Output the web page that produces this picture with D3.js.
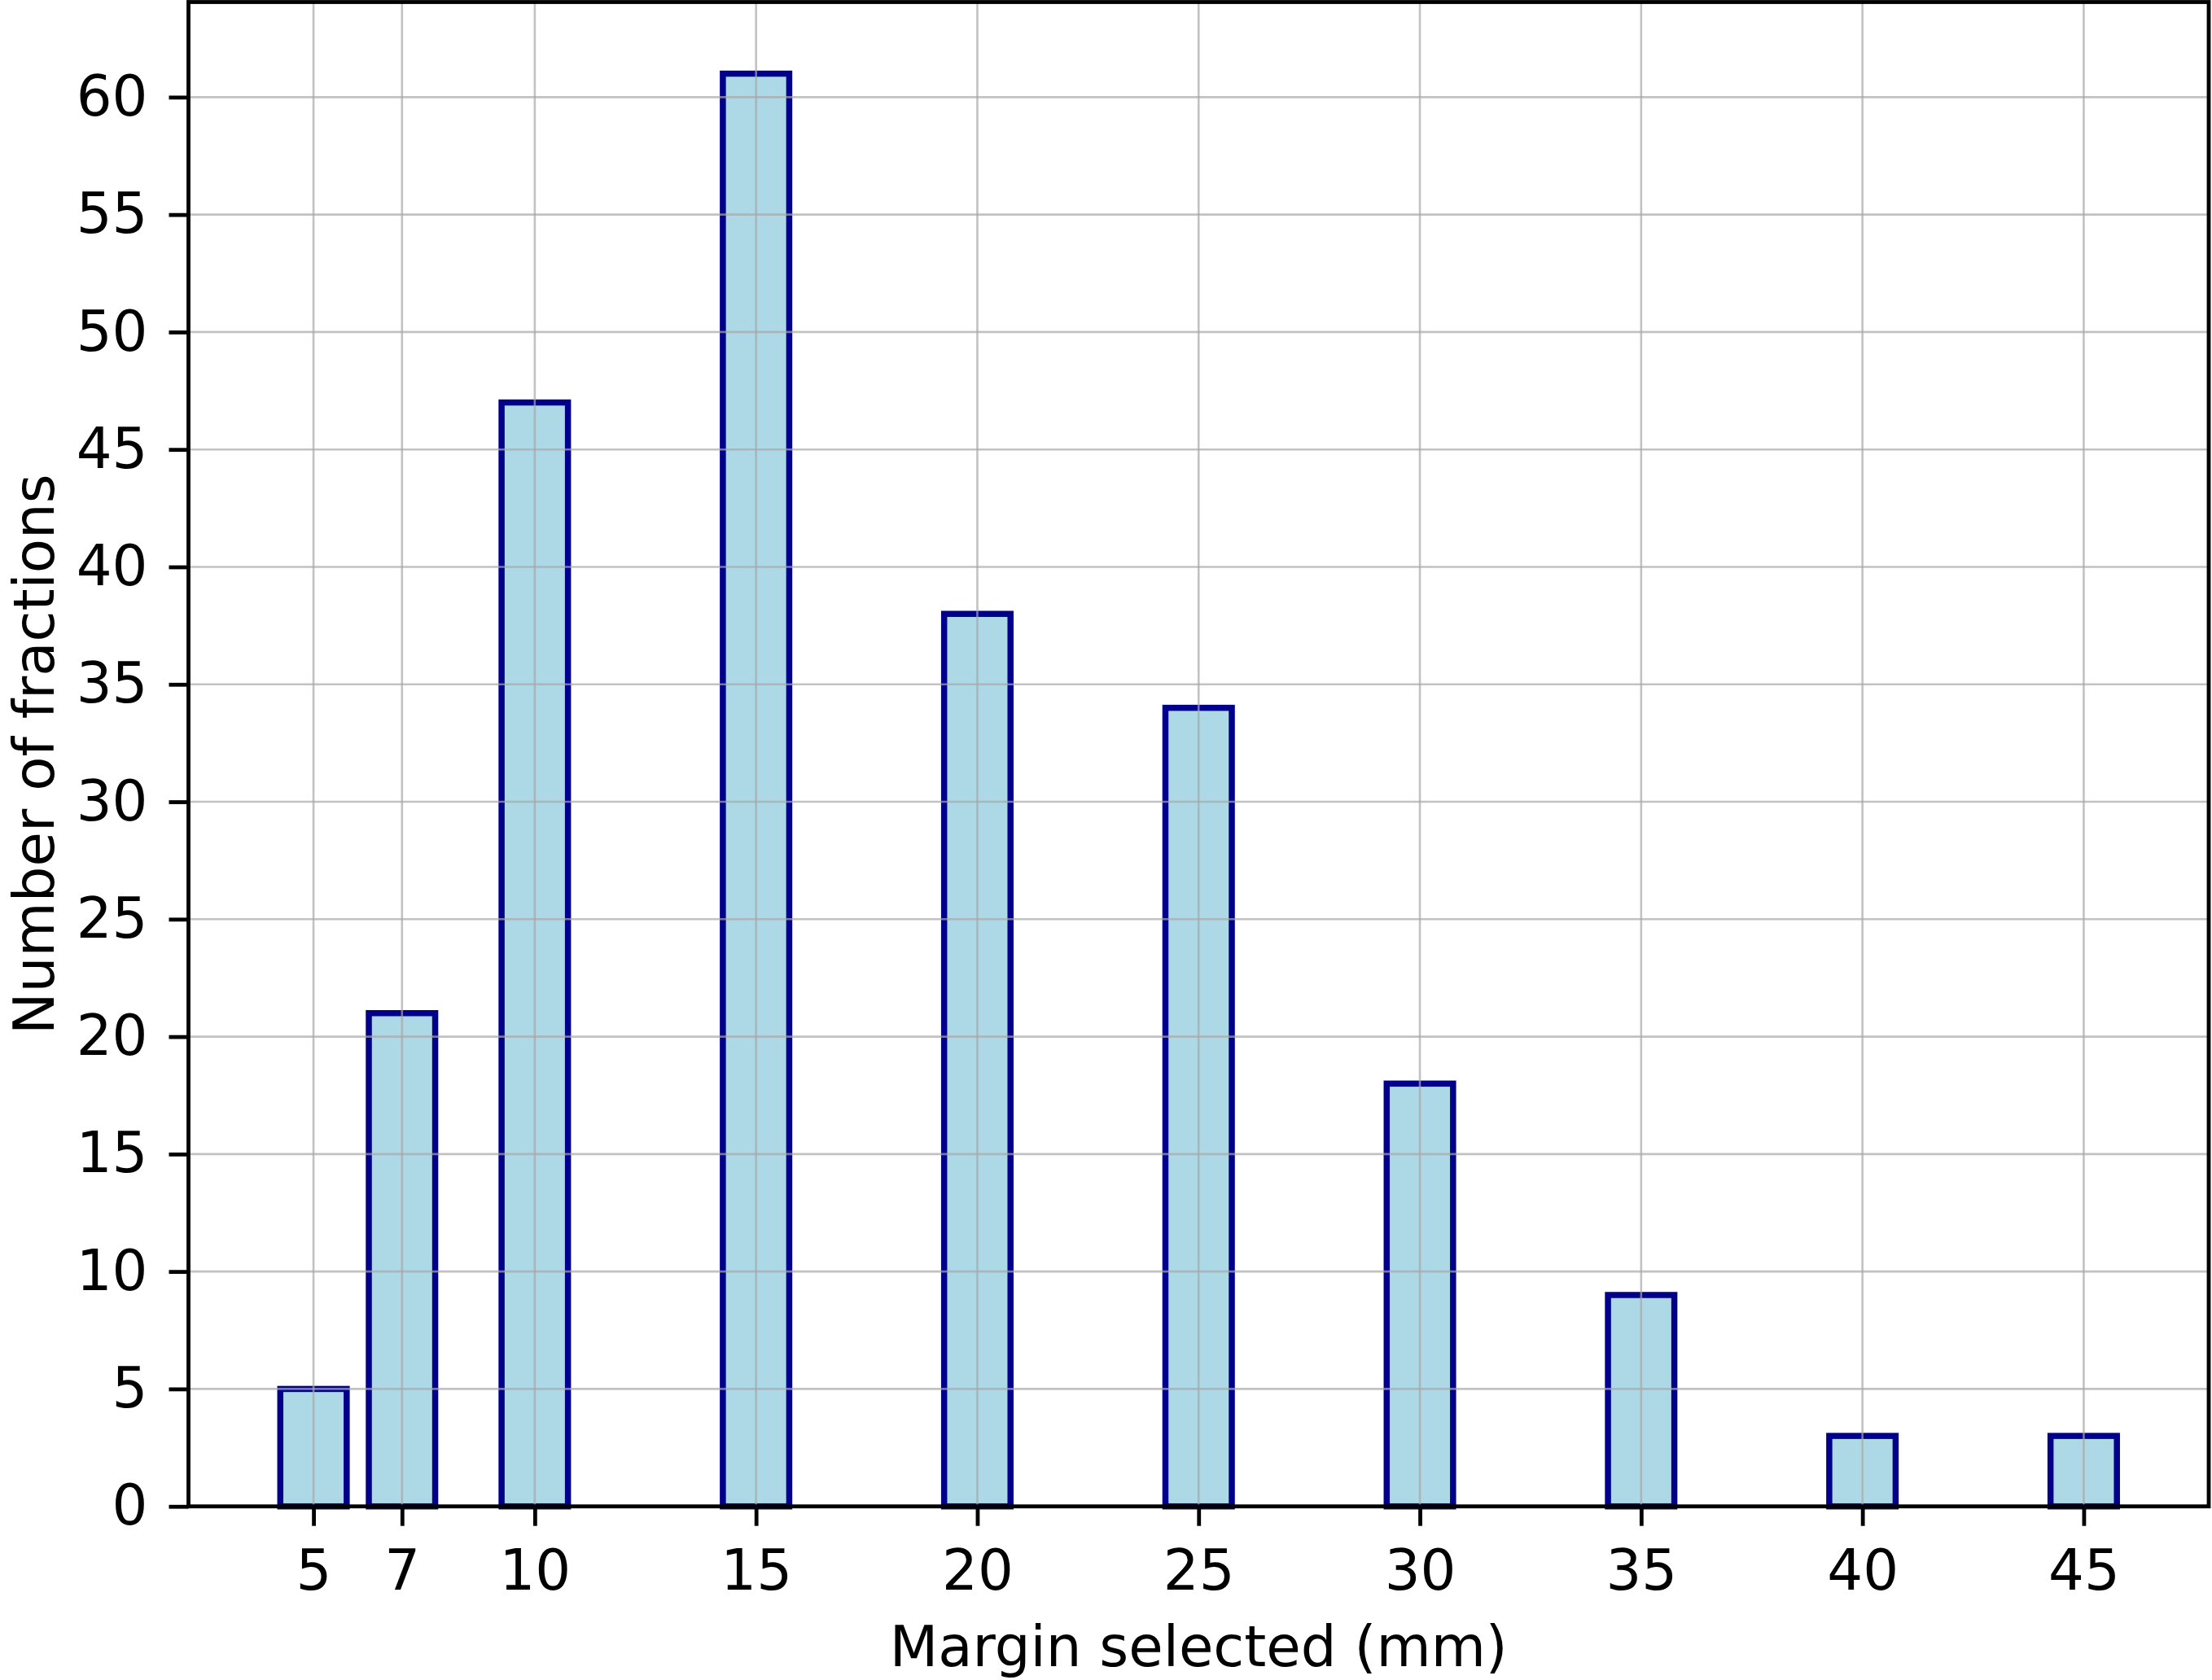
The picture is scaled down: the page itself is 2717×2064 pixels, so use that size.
<!DOCTYPE html>
<html>
<head>
<meta charset="utf-8">
<script src="https://cdn.jsdelivr.net/npm/d3@7"></script>
<style>
  body { margin: 0; background: #fff; }
  svg { display: block; font-family: "DejaVu Sans", sans-serif; }
</style>
</head>
<body>
<div id="chart"></div>
<script>
// margins in mm and how many fractions used each one
const margins = [5, 7, 10, 15, 20, 25, 30, 35, 40, 45];
const fractions = [5, 21, 47, 61, 38, 34, 18, 9, 3, 3];
const xTicks = [5, 7, 10, 15, 20, 25, 30, 35, 40, 45];
const yTicks = [0, 5, 10, 15, 20, 25, 30, 35, 40, 45, 50, 55, 60];

const W = 2717, H = 2064;
const margin = {top: 2.5, right: 4, bottom: 213.3, left: 231.5};
const width = W - margin.left - margin.right,
      height = H - margin.top - margin.bottom;
const barW = 1.5;
const fontSize = 69;

const data = margins.map((m, i) => ({m: m, n: fractions[i]}));

const svg = d3.select("#chart").append("svg")
    .attr("width", W)
    .attr("height", H);

const g = svg.append("g")
    .attr("transform", "translate(" + margin.left + "," + margin.top + ")");

// matplotlib style 5% padding round the data
const xMin = d3.min(margins) - barW / 2, xMax = d3.max(margins) + barW / 2;
const pad = (xMax - xMin) * 0.05;
const x = d3.scaleLinear()
    .domain([xMin - pad, xMax + pad])
    .range([0, width]);

const y = d3.scaleLinear()
    .domain([0, d3.max(fractions) * 1.05])
    .range([height, 0]);

// bars
g.append("g")
    .selectAll("rect")
    .data(data)
    .enter().append("rect")
    .attr("x", d => x(d.m - barW / 2))
    .attr("y", d => y(d.n))
    .attr("width", d => x(d.m + barW / 2) - x(d.m - barW / 2))
    .attr("height", d => y(0) - y(d.n))
    .attr("fill", "#add8e6")
    .attr("stroke", "#00008b")
    .attr("stroke-width", 7.5);

// grid on top of the bars, like the original
const grid = g.append("g").attr("class", "grid")
    .attr("stroke", "#a8a8a8")
    .attr("stroke-opacity", 0.7)
    .attr("stroke-width", 2.6);
grid.selectAll(".gx")
    .data(xTicks)
    .enter().append("line")
    .attr("x1", d => x(d)).attr("x2", d => x(d))
    .attr("y1", 0).attr("y2", height);
grid.selectAll(".gy")
    .data(yTicks)
    .enter().append("line")
    .attr("y1", d => y(d)).attr("y2", d => y(d))
    .attr("x1", 0).attr("x2", width);

// axes
const xAxis = g.append("g")
    .attr("transform", "translate(0," + height + ")")
    .call(d3.axisBottom(x).tickValues(xTicks).tickSize(24).tickPadding(28).tickSizeOuter(0));
const yAxis = g.append("g")
    .call(d3.axisLeft(y).tickValues(yTicks).tickSize(24).tickPadding(26).tickSizeOuter(0));

[xAxis, yAxis].forEach(a => {
    a.select(".domain").remove();
    a.selectAll(".tick line").attr("stroke", "#000").attr("stroke-width", 4.8);
    a.selectAll(".tick text")
        .attr("fill", "#000")
        .style("font-size", fontSize + "px")
        .style("font-family", "DejaVu Sans");
});
xAxis.selectAll(".tick text").attr("dy", "0.73em");

// frame
g.append("rect")
    .attr("x", 0).attr("y", 0)
    .attr("width", width).attr("height", height)
    .attr("fill", "none")
    .attr("stroke", "#000")
    .attr("stroke-width", 4.8);

// axis titles
svg.append("text")
    .attr("x", margin.left + width / 2)
    .attr("y", 2047)
    .attr("text-anchor", "middle")
    .style("font-size", fontSize + "px")
    .text("Margin selected (mm)");

svg.append("text")
    .attr("transform", "translate(66," + (margin.top + height / 2) + ") rotate(-90)")
    .attr("text-anchor", "middle")
    .style("font-size", fontSize + "px")
    .text("Number of fractions");
</script>
</body>
</html>
